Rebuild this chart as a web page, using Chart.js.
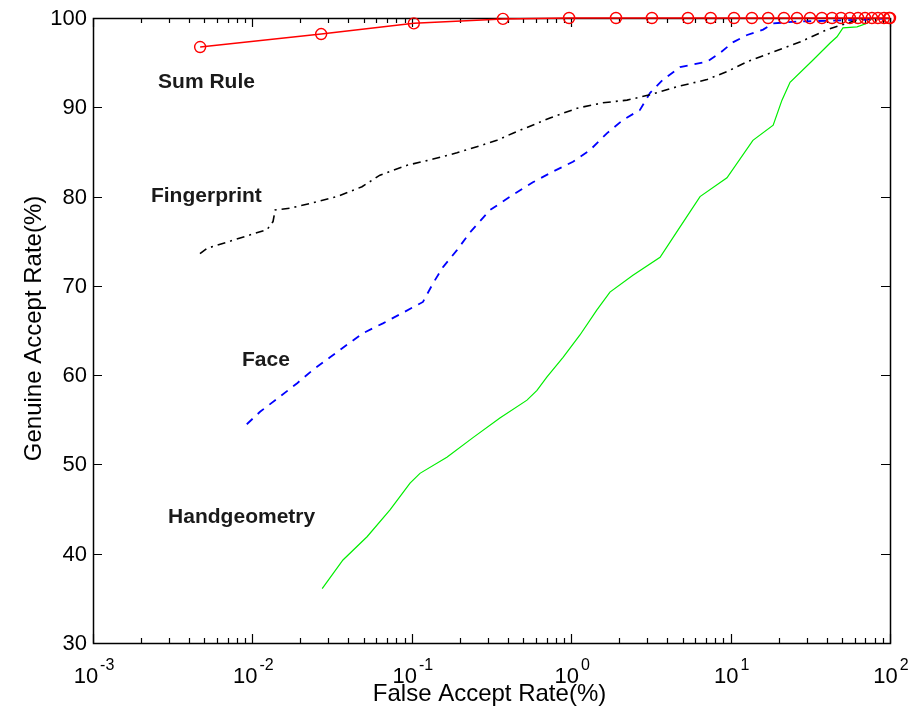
<!DOCTYPE html>
<html>
<head>
<meta charset="utf-8">
<script src="https://cdn.jsdelivr.net/npm/chart.js@4/dist/chart.umd.min.js"></script>
<style>
html,body{margin:0;padding:0;background:#fff;}
#wrap{width:912px;height:713px;position:relative;}
</style>
</head>
<body>
<div id="wrap"><canvas id="c"></canvas></div>
<script>
// ---- data ----
const sumFar = [0.0047,0.027,0.103,0.373,0.97,1.91,3.21,5.4,7.5,10.5,13.6,17.2,21.6,26.1,31.5,37.4,43.3,49.3,56,63,69.7,77,84,91.7,98.6,100];
const sumGar = [96.75,98.2,99.4,99.9,100,100,100,100,100,100,100,100,100,100,100,100,100,100,100,100,100,100,100,100,100,100];

const fpFar = [0.00469,0.00519,0.01236,0.01347,0.0139,0.0172,0.024,0.034,0.0487,0.0631,0.0933,0.136,0.192,0.268,0.342,0.431,0.736,1.09,1.58,2.24,3.12,4.61,7.11,9.5,12.7,18.5,27.2,40.3,53.7,62.1,80,100];
const fpGar = [73.6,74.2,76.3,77.2,78.5,78.7,79.3,80.0,81.1,82.4,83.5,84.2,84.9,85.7,86.3,87.1,88.8,89.9,90.5,90.8,91.4,92.3,93.1,94.0,95.1,96.2,97.3,98.7,99.4,99.8,100,100];

const faceFar = [0.00922,0.01117,0.0149,0.0191,0.024,0.0307,0.0392,0.0494,0.0659,0.0881,0.1175,0.136,0.157,0.192,0.232,0.310,0.431,0.575,0.769,1.026,1.31,1.68,2.12,2.70,3.12,3.77,4.82,7.11,8.59,10.4,12.7,16.0,18.5,26.1,42.1,67.7,100];
const faceGar = [54.5,55.9,57.6,59.1,60.6,62.0,63.4,64.7,65.8,67.0,68.2,70.3,72.1,74.0,76.0,78.5,80.2,81.6,82.8,83.9,85.2,87.1,88.6,89.7,91.6,93.1,94.5,95.1,96.1,97.3,98.1,98.7,99.4,99.6,99.7,99.8,100];

const handFar = [0.0274,0.037,0.0524,0.073,0.0975,0.1125,0.166,0.242,0.357,0.528,0.61,0.705,0.889,1.135,1.45,1.75,2.44,3.61,4.82,6.43,9.49,13.8,18.5,21.0,23.6,32.9,42.1,46.5,50.7,62.1,71.8,77.1,100];
const handGar = [36.1,39.3,41.9,44.9,47.9,49.0,50.8,53.0,55.2,57.2,58.3,59.8,62.0,64.5,67.3,69.3,71.2,73.2,76.6,80.0,82.1,86.3,88.0,90.8,92.8,95.3,97.2,97.9,98.9,99.0,99.4,100,100];

const xTickExponents = [-3,-2,-1,0,1,2];
const yTickValues = [30,40,50,60,70,80,90,100];

const curveLabels = ["Sum Rule","Fingerprint","Face","Handgeometry"];
const labelFar = [0.00256,0.00231,0.0086,0.00296];
const labelGar = [92.83,80.07,61.7,44.12];

const xTitle = "False Accept Rate(%)";
const yTitle = "Genuine Accept Rate(%)";

function pts(xs, ys){ return xs.map((x,i)=>({x:x, y:ys[i]})); }

const FONT = '"Liberation Sans", Arial, sans-serif';

const matlabAxes = {
  id: 'matlabAxes',
  beforeDatasetsDraw(chart){
    const {ctx, chartArea:a, scales:{x, y}} = chart;
    ctx.save();
    ctx.strokeStyle = '#000';
    ctx.lineWidth = 1.2;
    ctx.beginPath();
    for (const e of xTickExponents){
      for (let m=1; m<=9; m++){
        const v = m*Math.pow(10,e);
        if (v > 100.0001) break;
        const px = Math.round(x.getPixelForValue(v))+0.5;
        const len = (m===1)?9:5;
        ctx.moveTo(px, a.bottom); ctx.lineTo(px, a.bottom-len);
        ctx.moveTo(px, a.top); ctx.lineTo(px, a.top+len);
      }
    }
    for (const v of yTickValues){
      const py = Math.round(y.getPixelForValue(v))+0.5;
      ctx.moveTo(a.left, py); ctx.lineTo(a.left+9, py);
      ctx.moveTo(a.right, py); ctx.lineTo(a.right-9, py);
    }
    ctx.stroke();
    ctx.lineWidth = 1.5;
    ctx.strokeRect(Math.round(a.left)+0.5, Math.round(a.top)+0.5, Math.round(a.right-a.left), Math.round(a.bottom-a.top));
    ctx.restore();
  },
  afterDraw(chart){
    const {ctx, chartArea:a, scales:{x, y}} = chart;
    ctx.save();
    ctx.fillStyle = '#000';
    ctx.font = '22px ' + FONT;
    ctx.textAlign = 'right';
    ctx.textBaseline = 'middle';
    for (const v of yTickValues){
      ctx.fillText(String(v), a.left-6, y.getPixelForValue(v)+1);
    }
    for (const e of xTickExponents){
      const px = x.getPixelForValue(Math.pow(10,e));
      ctx.font = '22px ' + FONT;
      const wBase = ctx.measureText('10').width;
      ctx.font = '16px ' + FONT;
      const expStr = (e<0?'-':'') + Math.abs(e);
      const wExp = ctx.measureText(expStr).width;
      const start = px - (wBase + 2 + wExp)/2 + 1;
      ctx.textAlign = 'left';
      ctx.textBaseline = 'alphabetic';
      ctx.font = '22px ' + FONT;
      ctx.fillText('10', start, a.bottom+40);
      ctx.font = '16px ' + FONT;
      ctx.fillText(expStr, start + wBase + 2, a.bottom+27);
    }
    ctx.font = '24px ' + FONT;
    ctx.textAlign = 'center';
    ctx.textBaseline = 'alphabetic';
    ctx.fillText(xTitle, (a.left+a.right)/2 - 2, 701);
    ctx.save();
    ctx.translate(41, (a.top+a.bottom)/2 - 2);
    ctx.rotate(-Math.PI/2);
    ctx.fillText(yTitle, 0, 0);
    ctx.restore();
    ctx.font = 'bold 21px ' + FONT;
    ctx.fillStyle = '#1a1a1a';
    ctx.textAlign = 'left';
    ctx.textBaseline = 'middle';
    curveLabels.forEach((t,i)=>{
      ctx.fillText(t, x.getPixelForValue(labelFar[i]), y.getPixelForValue(labelGar[i]));
    });
    ctx.restore();
  }
};

new Chart(document.getElementById('c'), {
  type: 'scatter',
  data: {
    datasets: [
      {label:'Sum Rule', data: pts(sumFar,sumGar), showLine:true, borderColor:'#ff0000', borderWidth:1.5,
       pointStyle:'circle', pointRadius:5.5, pointBorderColor:'#ff0000', pointBackgroundColor:'rgba(0,0,0,0)', pointBorderWidth:1.4, clip:false, order:0},
      {label:'Fingerprint', data: pts(fpFar,fpGar), showLine:true, borderColor:'#000000', borderWidth:1.6,
       borderDash:[8,5,2,5], pointRadius:0, order:1},
      {label:'Face', data: pts(faceFar,faceGar), showLine:true, borderColor:'#0000ff', borderWidth:1.8,
       borderDash:[8,7], pointRadius:0, order:2},
      {label:'Handgeometry', data: pts(handFar,handGar), showLine:true, borderColor:'#00ee00', borderWidth:1.2,
       pointRadius:0, order:3}
    ]
  },
  options: {
    responsive: true,
    maintainAspectRatio: false,
    animation: false,
    events: [],
    layout: { padding: { top: 18, right: 22, left: 0, bottom: 0 } },
    plugins: { legend: {display:false}, tooltip: {enabled:false} },
    scales: {
      x: {
        type: 'logarithmic', min: 0.001, max: 100,
        grid: {display:false}, border:{display:false},
        ticks: {display:false},
        afterFit(s){ s.height = 70; }
      },
      y: {
        type: 'linear', min: 30, max: 100,
        grid: {display:false}, border:{display:false},
        ticks: {display:false},
        afterFit(s){ s.width = 93; }
      }
    }
  },
  plugins: [matlabAxes]
});
</script>
</body>
</html>
